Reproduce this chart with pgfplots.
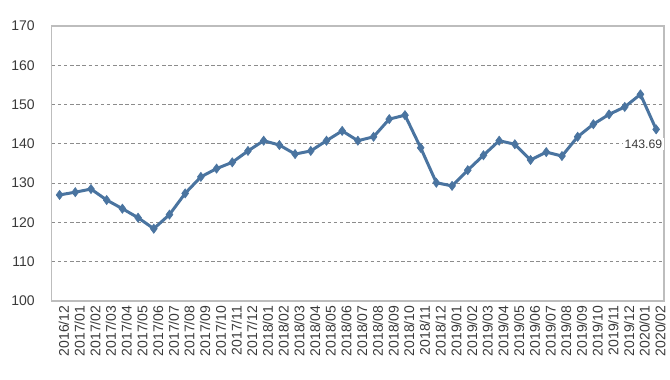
\documentclass[border=0pt]{standalone}
\usepackage{pgfplots}
\pgfplotsset{compat=1.18}
\usepackage{fontspec}
\setmainfont{Liberation Sans}
\definecolor{linec}{HTML}{4A74A0}
\definecolor{gridc}{HTML}{8C8C8C}
\definecolor{framec}{HTML}{BDBDBD}
\definecolor{txtc}{HTML}{3A3A3A}
\begin{document}
\begin{tikzpicture}
\begin{axis}[
  scale only axis,
  width=459.2pt, height=206.25pt,
  xmin=-0.5, xmax=38.5,
  ymin=100, ymax=170,
  ytick={100,110,...,170},
  xtick={0,...,38},
  xticklabels={2016/12,2017/01,2017/02,2017/03,2017/04,2017/05,2017/06,2017/07,2017/08,2017/09,2017/10,2017/11,2017/12,2018/01,2018/02,2018/03,2018/04,2018/05,2018/06,2018/07,2018/08,2018/09,2018/10,2018/11,2018/12,2019/01,2019/02,2019/03,2019/04,2019/05,2019/06,2019/07,2019/08,2019/09,2019/10,2019/11,2019/12,2020/01,2020/02},
  major tick length=0pt,
  ymajorgrids,
  grid style={gridc, line width=0.75pt, dash pattern=on 2.6pt off 2pt},
  axis line style={framec, line width=0.9pt},
  /pgf/number format/assume math mode=true,
  yticklabel style={font=\fontsize{10.5}{12}\selectfont, text=txtc, xshift=-9.3pt},
  xticklabel style={font=\fontsize{10.5}{12}\selectfont, text=txtc, rotate=90, anchor=east, yshift=-3.2pt},
]
\addplot[linec, line width=2.25pt, mark=diamond*, mark size=3.4pt, mark options={fill=linec, line width=0.5pt}] coordinates {
(0,127.0) (1,127.7) (2,128.5) (3,125.7) (4,123.5) (5,121.2) (6,118.4) (7,122.0) (8,127.4) (9,131.6)
(10,133.7) (11,135.3) (12,138.2) (13,140.8) (14,139.7) (15,137.4) (16,138.2) (17,140.8) (18,143.3) (19,140.8)
(20,141.8) (21,146.3) (22,147.3) (23,139.0) (24,130.1) (25,129.3) (26,133.3) (27,137.1) (28,140.8) (29,139.9)
(30,135.9) (31,137.9) (32,136.9) (33,141.8) (34,145.0) (35,147.5) (36,149.4) (37,152.6) (38,143.69)
};
\node[font=\fontsize{9.2}{11}\selectfont, text=txtc, fill=white, inner sep=1pt, xshift=-9.5pt, yshift=-11pt] at (axis cs:38,143.69) {143.69};
\end{axis}
\pgfresetboundingbox
\path ([shift={(-38.8pt,-59.25pt)}]current axis.south west) rectangle ([shift={(4.5pt,19.5pt)}]current axis.north east);
\end{tikzpicture}
\end{document}
